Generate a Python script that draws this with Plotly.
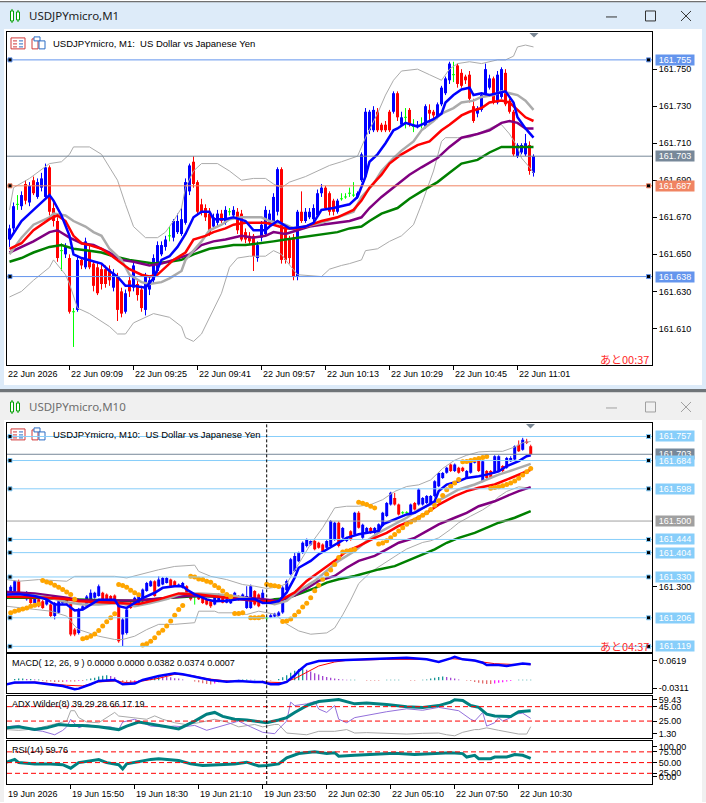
import plotly.graph_objects as go

W, H = 706, 803

# ================= DATA =================
# prices are stored in points (0.001) above 161.000
# ---- M1 chart (bars 08:54 .. 11:05) ----
m1_open = [658,664,677,676,688,678,690,681,686,681,
697,675,668,652,650,648,619,620,647,643,
652,645,643,642,642,642,632,638,630,619,
636,632,634,631,620,631,636,641,650,654,
660,659,662,661,667,684,700,689,677,675,
672,665,667,672,667,673,671,673,672,662,
660,660,648,659,661,667,668,673,696,664,
658,659,638,673,668,670,669,671,683,686,
683,679,673,680,681,683,682,681,690,692,
717,717,727,720,720,727,727,737,720,724,
728,719,719,720,719,728,727,724,731,737,
744,747,752,748,746,747,730,726,728,736,
740,745,732,735,748,733,727,703,705,704,
709,694]
m1_high = [666,678,682,684,690,689,692,691,694,699,
698,678,670,656,656,650,621,649,648,659,
655,646,646,645,644,644,642,640,632,631,
638,646,636,633,640,638,650,657,657,660,
665,669,672,675,691,699,703,690,680,677,
675,672,674,674,676,675,676,675,674,664,
662,661,657,668,676,674,683,697,697,666,
660,661,674,684,675,675,677,685,688,687,
684,680,680,683,683,686,689,684,705,729,
728,730,729,721,722,728,738,738,727,729,
729,723,722,724,731,731,728,732,741,746,
754,754,753,750,747,749,734,730,737,753,
747,746,749,751,750,734,728,710,710,715,
711,704]
m1_low = [654,662,674,674,677,676,682,680,684,680,
671,665,646,641,648,618,600,619,642,642,
642,630,628,631,632,633,630,614,616,618,
627,630,625,619,617,628,634,640,649,652,
657,657,661,660,666,682,686,671,671,668,
660,664,665,667,666,671,670,661,657,656,
655,641,646,657,660,665,666,671,645,645,
645,636,636,667,667,669,668,670,681,674,
671,671,672,679,680,681,681,680,689,691,
715,716,716,716,716,716,726,722,719,718,
719,716,718,718,718,721,723,723,730,736,
742,743,740,740,742,732,721,724,727,735,
739,731,731,734,730,726,703,702,704,703,
693,692]
m1_close = [664,676,677,682,679,687,683,689,691,697,
673,668,648,652,654,619,619,647,644,657,
643,633,629,634,634,636,640,620,618,629,
630,644,628,621,638,636,648,655,655,658,
660,668,668,669,689,698,688,673,673,670,
661,670,672,668,674,673,674,663,658,658,
657,649,655,666,674,672,681,696,647,647,
648,638,673,668,673,673,675,683,686,675,
673,673,679,680,681,683,682,683,704,727,
727,728,717,717,717,717,737,724,724,724,
720,719,720,720,730,726,725,731,740,745,
753,747,742,741,744,734,722,729,736,750,
745,732,747,750,731,727,704,709,709,710,
695,703]
m1_tick_idx = [15, 31, 47, 63, 79, 95, 111, 127]
m1_first_label = "22 Jun 2026"
m1_tick_labels = ["22 Jun 09:09", "22 Jun 09:25", "22 Jun 09:41", "22 Jun 09:57",
                  "22 Jun 10:13", "22 Jun 10:29", "22 Jun 10:45", "22 Jun 11:01"]
m1_price_ticks = [161.610, 161.630, 161.650, 161.670, 161.690, 161.710, 161.730, 161.750]

m1_blue_idx = [0,3,6,10,11,13,15,16,18,21,23,25,27,29,31,34,36,38,40,42,44,46,48,50,51,54,56,59,61,64,65,67,70,74,76,78,81,85,87,89,90,92,94,96,97,99,102,103,106,108,109,111,113,115,116,118,120,124,126,127,129,131]
m1_blue_val = [658,668,674,682,679,671,660,650,648,646,645,641,638,633,633,632,637,647,649,654,661,670,673,673,669,669,670,668,663,663,665,668,664,665,667,674,675,677,681,692,700,704,710,717,718,721,719,720,723,726,732,736,739,740,736,737,736,738,732,724,718,713]
m1_red_idx = [0,3,6,10,12,14,16,18,20,23,25,28,30,33,35,37,39,41,44,46,49,51,54,56,59,61,64,66,69,72,74,78,82,86,88,90,93,95,98,102,105,108,110,113,115,118,120,123,125,127,129,131]
m1_red_val = [653,656,663,669,671,668,660,656,655,653,650,645,642,639,638,639,643,647,651,658,660,662,664,666,667,667,667,666,664,664,665,668,670,674,679,686,693,699,704,709,711,717,720,725,727,729,732,733,732,728,724,722]
m1_purple_idx = [0,3,6,10,12,15,18,21,25,28,31,35,38,41,45,48,51,54,58,61,64,66,69,72,75,78,82,85,88,90,93,97,100,103,107,110,113,117,120,123,125,127,129,131]
m1_purple_val = [651,654,657,662,663,659,656,655,651,647,646,644,645,647,650,655,657,658,660,659,660,662,661,663,665,666,667,668,670,675,681,688,693,697,702,708,713,715,717,721,722,721,718,718]
m1_green_idx = [0,3,6,10,13,16,20,23,26,30,33,36,40,43,46,50,53,56,59,63,66,69,72,75,78,82,85,88,90,93,97,100,103,107,110,113,117,120,123,127,131]
m1_green_val = [646,648,651,654,655,653,652,651,649,647,646,645,646,647,650,653,654,655,655,656,657,658,659,660,661,662,664,665,668,672,675,680,684,689,694,699,701,705,708,708,708]
m1_bbmid_idx = [0,3,6,10,11,14,16,19,21,23,25,28,30,33,35,38,40,43,44,46,48,50,53,55,58,60,63,65,67,69,71,74,78,82,86,88,91,93,96,98,101,103,106,108,111,113,116,118,121,123,125,127,129,131]
m1_bbmid_val = [650,659,666,670,672,671,668,665,662,660,653,647,639,635,634,635,637,641,647,652,657,663,666,669,670,670,670,668,667,666,664,665,667,670,673,681,688,695,702,706,711,717,722,726,729,732,733,735,736,738,737,736,733,728]
m1_bbup_idx = [0,1,5,10,13,15,16,20,23,25,27,29,31,34,37,39,41,43,44,46,48,52,55,58,61,64,66,68,70,74,77,80,83,87,89,92,94,96,98,102,105,108,110,112,115,118,122,124,126,127,129,131]
m1_bbup_val = [674,686,691,699,700,704,708,708,704,697,690,677,665,659,659,662,668,675,686,695,699,699,695,690,691,691,688,686,689,692,695,698,700,703,713,726,736,744,749,750,747,744,750,753,754,753,755,755,757,762,763,762]
m1_bblo_idx = [0,3,6,10,11,14,15,17,20,23,25,27,29,31,34,36,40,43,44,46,48,50,53,55,57,60,64,66,68,69,72,78,80,83,85,88,89,92,95,98,101,103,106,108,109,112,115,118,122,123,125,127,128,130,131]
m1_bblo_val = [627,630,636,643,647,639,634,621,618,614,611,607,607,613,616,618,616,611,605,603,607,616,629,643,648,649,649,652,650,647,639,638,642,644,645,647,652,653,657,660,666,677,695,711,713,713,713,716,720,720,715,708,702,697,694]

m1_levels = [755, 703, 687, 638]
m1_level_text = ["161.755", "161.703", "161.687", "161.638"]

# ---- M10 chart (bars 19 Jun 13:10 .. 22 Jun 11:00) ----
m10_open = [271,282,285,317,280,262,272,251,262,256,
246,246,211,221,251,262,251,170,160,231,
241,262,267,272,282,277,272,274,256,155,
160,251,246,251,256,287,302,317,302,307,
312,322,317,302,297,302,282,270,272,267,
262,256,246,256,270,252,250,262,272,262,
236,236,287,277,262,205,207,210,212,222,
290,338,348,378,404,424,429,439,434,429,
419,424,444,495,449,439,469,459,525,449,
464,479,464,469,485,515,550,570,550,525,
525,520,555,550,550,555,555,576,606,631,
647,672,652,662,662,631,647,677,684,621,
652,652,647,652,667,662,682,687,732,717,
742,727]
m10_high = [290,305,320,322,283,287,275,270,265,260,
265,250,254,262,270,265,254,175,236,245,
275,292,285,307,285,280,275,277,260,205,
235,255,270,275,295,315,320,320,332,330,
330,325,320,310,315,305,285,277,275,270,
265,260,275,280,274,265,266,285,275,280,
302,307,290,280,292,210,217,221,226,302,
322,388,404,407,438,447,441,444,437,432,
442,503,498,499,482,452,472,528,530,492,
482,482,482,493,528,558,589,586,553,530,
530,553,558,600,573,579,579,624,649,649,
665,675,675,665,665,655,682,684,686,685,
655,655,700,700,670,695,697,730,745,753,
750,732]
m10_low = [268,280,282,270,268,258,248,248,238,233,
243,208,201,218,248,246,150,150,155,228,
238,258,264,270,258,260,255,260,130,120,
155,233,244,248,253,285,300,270,300,305,
310,300,300,300,295,280,258,246,260,248,
244,236,244,254,250,250,248,260,258,260,
233,233,243,238,258,198,205,207,210,218,
285,335,345,375,400,420,425,411,416,406,
416,420,440,420,446,436,440,455,477,446,
461,461,461,466,482,512,547,547,517,520,
521,517,532,547,547,552,552,572,603,628,
644,649,649,644,649,628,644,675,649,618,
628,628,644,649,649,659,680,684,710,714,
734,700]
m10_close = [287,300,317,272,272,282,251,267,241,236,
262,211,251,256,267,251,155,155,231,241,
271,282,282,302,262,262,257,262,135,201,
231,236,267,272,292,312,317,272,322,327,
327,302,302,307,312,282,262,270,262,251,
246,241,272,277,252,262,262,282,262,277,
272,302,246,241,282,205,214,218,222,298,
318,384,394,404,434,444,439,414,419,409,
439,500,495,424,479,449,444,525,480,489,
479,464,479,490,525,555,586,550,520,525,
525,550,535,596,570,576,576,621,646,646,
662,652,672,647,652,652,680,681,652,682,
631,631,697,697,652,692,692,727,712,747,
737,703]
m10_tick_idx = [16, 32, 48, 64, 80, 96, 112, 128]
m10_first_label = "19 Jun 2026"
m10_tick_labels = ["19 Jun 15:50", "19 Jun 18:30", "19 Jun 21:10", "19 Jun 23:50",
                   "22 Jun 02:30", "22 Jun 05:10", "22 Jun 07:50", "22 Jun 10:30"]
m10_day_sep = 65

m10_blue_idx = [0,3,7,10,12,15,17,19,21,23,27,28,30,32,34,37,39,42,44,45,47,50,52,55,58,62,64,66,68,70,72,73,76,78,80,83,85,88,91,93,94,96,98,100,102,104,107,108,110,113,115,118,120,123,125,128,130,131]
m10_blue_val = [277,278,272,262,246,246,228,231,246,261,261,241,236,251,266,282,297,302,302,292,277,262,256,258,262,263,251,252,257,283,328,358,379,399,414,434,449,460,465,470,490,500,510,520,525,540,560,591,611,621,631,636,641,651,667,682,697,700]
m10_red_idx = [0,8,15,18,22,28,33,38,43,48,53,58,63,68,72,75,78,82,85,88,92,95,98,102,105,108,112,115,118,122,125,128,131]
m10_red_val = [270,268,263,256,254,250,248,262,280,277,270,262,256,257,283,318,343,379,409,424,449,464,485,505,525,550,576,591,601,611,626,641,656]
m10_purple_idx = [0,7,15,18,23,28,33,40,45,50,57,63,68,72,75,78,82,85,88,92,95,98,102,105,108,112,115,118,122,125,128,131]
m10_purple_val = [284,280,267,260,258,258,259,266,272,272,267,264,257,274,295,318,333,358,379,394,414,434,449,470,490,510,525,545,560,576,591,603]
m10_green_idx = [0,8,15,23,32,40,48,57,65,67,70,73,77,80,83,87,90,93,97,100,103,107,110,113,117,120,123,127,130,131]
m10_green_val = [267,267,262,260,257,266,272,268,257,262,265,278,296,313,323,333,343,353,363,379,394,414,434,449,464,480,495,510,525,530]
m10_bbmid_idx = [0,7,11,15,19,23,28,32,36,40,44,48,53,57,61,65,67,70,73,77,80,83,87,90,93,97,100,103,107,110,113,117,120,123,127,131]
m10_bbmid_val = [277,274,267,253,246,246,251,241,251,263,280,280,277,272,263,251,247,257,288,318,348,379,409,439,465,490,510,535,556,576,596,611,626,641,657,674]
m10_bbup_idx = [0,3,8,15,17,22,27,30,33,38,42,47,48,51,55,59,62,65,68,70,73,76,79,82,85,88,91,94,97,100,103,106,109,112,115,118,121,124,127,129,131]
m10_bbup_val = [322,317,322,317,332,332,332,327,337,352,362,366,347,332,322,307,302,295,300,310,370,430,480,540,545,545,550,565,590,605,610,625,660,685,700,710,712,712,725,738,742]
m10_bblo_idx = [0,7,11,15,17,18,23,27,29,32,35,38,42,47,48,52,53,57,60,63,67,70,73,76,80,82,84,86,88,91,95,98,100,102,104,106,108,111,113,116,119,121,123,125,128,131]
m10_bblo_val = [241,231,226,211,181,170,150,140,140,150,170,186,186,191,226,226,221,221,216,226,217,187,166,156,160,175,215,260,310,345,378,400,415,425,435,440,449,475,495,515,534,550,574,590,604,600]
m10_sar_idx = [1,2,3,4,5,6,7,8, 9,10,11,12,13,14,15,16,17, 19,20,21,22,23,24,25,26,27,
               28,29,30,31,32,33, 34,35,36,37,38,39,40,41,42,43,44,
               46,47,48,49,50,51,52,53,54,55,56, 57,58,59, 61,62,63,64, 65,66,67,68,
               69,70,71,72,73,74,75,76,77,78,79,80,81,82,83,84,85,86,87,
               88,89,90,91,92,
               93,94,95,96,97,98,99,100,101,102,103,104,105,106,107,108,109,110,111,112,113,
               114,115,116,117,118,119,120,
               121,122,123,124,125,126,127,128,129,130,131]
m10_sar_val = [221,226,229,233,236,241,244,248, 319,315,312,305,299,292,284,277,262, 142,145,150,157,167,181,194,206,218,
               307,304,299,290,282,276, 123,127,135,145,160,168,181,196,214,231,243,
               332,330,324,322,317,314,304,297,287,277,270, 219,219,221, 206,206,206,209, 308,305,303,301,
               195,196,202,214,224,239,250,267,288,305,323,338,351,368,389,406,409,411,414,
               557,554,550,545,540,
               430,433,440,449,459,470,480,490,497,503,510,518,525,535,548,562,578,595,606,616,626,
               680,681,684,687,690,693,696,
               600,602,604,607,611,616,622,630,640,650,660]

m10_levels_blue = [757, 684, 598, 444, 404, 330, 206, 119]
m10_level_now = 703
m10_level_grey = 500

# ---- MACD(12,26,9) in units of 0.0001 ----
macd_idx = [0,2,7,11,14,17,18,21,23,27,29,32,34,38,42,44,48,51,55,58,62,64,66,68,70,72,73,75,78,82,85,90,95,100,105,108,111,112,114,117,119,120,123,125,127,129,131]
macd_val = [-96,-56,-56,-96,-136,-216,-200,-96,-17,7,-96,-80,7,103,166,142,63,7,-33,-17,-41,-41,-96,-96,-41,118,222,381,460,484,484,500,520,540,500,437,524,560,500,470,420,365,365,340,370,400,382]
signal_idx = [0,7,15,19,23,27,30,33,38,42,46,50,55,60,65,69,72,75,78,82,85,95,105,108,111,114,119,122,126,131]
signal_val = [-80,-40,-120,-136,-40,-17,-56,-33,47,142,118,39,-17,-33,-41,-56,39,182,341,437,476,500,500,440,516,500,437,397,381,374]
# histogram per bar, units of 0.001
macd_hist = [0,0,
             3,4,4,3,3,2,2,
             -2,-3,-3,-4,-4,-4,-3,-3,-3,-2,-2,
             2,4,6,9,11,12,10,7,
             -3,-5,-7,-8,-6,-3,
             3,5,7,9,10,9,8,7,5,4,2,
             0,0,
             -3,-5,-7,-9,-10,-8,-5,
             -2,-2,-1,-1,
             1,2,2,1,1,
             0,-1,-1,-1,0,
             3,7,12,18,23,27,28,25,21,17,14,10,8,6,4,3,2,
             1,1,1,0,0,-1,
             -1,-1,-1,0,1,1,1,1,0,0,-1,-1,0,1,
             2,4,6,8,9,8,6,4,2,
             0,-1,
             -2,-4,-6,-8,-9,-9,-8,-6,-5,-3,-2,
             0,
             1,1,1,1]
macd_ticks = [0.0476, -0.0192]
macd_tick_text = ["0.0619", "-0.0311"]

# ---- ADX Wilder(8) ----
adx_idx = [0,3,7,10,13,16,19,23,28,30,33,37,40,43,47,50,52,54,57,60,63,65,68,70,72,75,78,81,83,87,90,95,100,104,108,111,112,114,116,118,120,122,125,126,128,131]
adx_val = [15.6,17,13.2,15.6,20.3,19,19,17,13.2,18,23.7,20.3,17,14.1,25,34.6,37,31.5,27.5,26.5,23.7,22.8,26.5,29.8,37,46.5,52.2,53.6,55,48.9,50,48,45,44,46.5,51.3,54.6,53.6,46.5,44.1,34.6,32.2,31.3,31.3,37.9,39.3]
pdi_idx = [0,3,6,9,12,14,15,16,18,20,23,26,28,29,32,33,36,39,42,44,47,50,52,55,58,61,64,67,68,70,71,72,75,77,78,80,82,83,85,87,90,95,100,104,108,111,113,116,117,119,120,122,123,124,126,127,129,131]
pdi_val = [17,19,13,10.8,6,12,17,27.5,15.6,20,17,17,13.2,23.7,27.5,25,18,17,18,17,19,12.2,15.6,20.3,25,17,9.4,7.5,14,25,51.3,46.5,48.9,52.2,41.7,37,46.5,27.5,22.7,29.8,33,38,42,40,44,41.7,39.4,27.5,25,37,18,22.7,29.8,25,29.8,34.6,36,28.7]
mdi_idx = [0,3,7,10,13,15,16,17,18,20,23,27,28,32,35,37,39,42,45,48,52,55,58,62,64,67,68,70,72,75,78,82,85,87,90,95,100,104,108,110,112,114,117,118,120,123,126,128,130,131]
mdi_val = [13.2,12.2,14,18,22.7,25,39.4,39.4,29.8,23.7,22.7,37,32,29.8,27.5,32.2,27.5,22.7,20,22.7,27.5,23.7,17,20.3,17,20.3,20.3,8.4,7.5,6,10.8,10.8,13.2,8.4,9,8,7,8,8.4,6,4.6,9.4,13.2,13.2,15.6,12.2,9.4,7,7,17.2]
adx_levels = [45, 25]
adx_ticks = [54.3, 44.6, 25.0, 7.25]
adx_tick_text = ["59.43", "45.00", "25.00", "1.30"]

# ---- RSI(14) ----
rsi_idx = [0,2,3,7,11,14,16,18,23,25,28,29,30,33,36,38,43,46,49,53,57,60,63,65,68,70,73,77,80,82,83,87,92,97,102,106,108,111,114,115,117,118,121,122,125,127,129,131]
rsi_val = [51,57.5,50,47,47,45,37,50,57,50,45,35,47,53,57.5,59,55,47,43,45,47,51,42,43,47,61,71,75,71,73,65,67,70,72,69,71,71,73,71,63,67,59,59,63,63,69,67,59.8]
rsi_levels = [75, 50, 25]
rsi_ticks = [87.7, 75, 50, 25, 17.9]
rsi_tick_text = ["100.00", "75.00", "50.00", "25.00", "0.00"]

# ================= HELPERS =================
def X(px):
    return px / W

def Y(py):
    return 1 - py / H

def price(p):
    return 161.0 + p / 1000.0

BULL, BEAR, DOJI = "#0000FF", "#FF0000", "#00FF00"
FONT = "Liberation Sans, Arial, sans-serif"

fig = go.Figure()

def add_candles(o, h, l, c, xa, ya, minh):
    bases, hts, cols = [], [], []
    wx = {BULL: [], BEAR: [], DOJI: []}
    wy = {BULL: [], BEAR: [], DOJI: []}
    for i in range(len(o)):
        col = BULL if c[i] > o[i] else (BEAR if c[i] < o[i] else DOJI)
        lo, hi = min(o[i], c[i]), max(o[i], c[i])
        hgt = max((hi - lo) / 1000.0, minh)
        mid = (price(lo) + price(hi)) / 2
        bases.append(mid - hgt / 2)
        hts.append(hgt)
        cols.append(col)
        wx[col] += [i, i, None]
        wy[col] += [price(l[i]), price(h[i]), None]
    for col in (BULL, BEAR, DOJI):
        fig.add_trace(go.Scatter(x=wx[col], y=wy[col], mode="lines",
                                 line=dict(color=col, width=1), xaxis=xa, yaxis=ya,
                                 hoverinfo="skip"))
    fig.add_trace(go.Bar(x=list(range(len(o))), y=hts, base=bases, width=0.75,
                         marker=dict(color=cols, line=dict(width=0)),
                         xaxis=xa, yaxis=ya, hoverinfo="skip"))

def add_line(idx, vals, color, width, xa, ya, conv=price):
    fig.add_trace(go.Scatter(x=idx, y=[conv(v) for v in vals], mode="lines",
                             line=dict(color=color, width=width), xaxis=xa, yaxis=ya,
                             hoverinfo="skip"))

GREY = "#ABABAB"

# ================= M1 =================
add_candles(m1_open, m1_high, m1_low, m1_close, "x", "y", 1 / 1857)
add_line(m1_bbup_idx, m1_bbup_val, GREY, 1, "x", "y")
add_line(m1_bblo_idx, m1_bblo_val, GREY, 1, "x", "y")
add_line(m1_green_idx, m1_green_val, "#008000", 2.5, "x", "y")
add_line(m1_purple_idx, m1_purple_val, "#800080", 2.5, "x", "y")
add_line(m1_bbmid_idx, m1_bbmid_val, GREY, 2.5, "x", "y")
add_line(m1_red_idx, m1_red_val, "#FF0000", 2.5, "x", "y")
add_line(m1_blue_idx, m1_blue_val, "#0000FF", 2.5, "x", "y")

# ================= M10 =================
add_candles(m10_open, m10_high, m10_low, m10_close, "x2", "y2", 1 / 329.8)
add_line(m10_bbup_idx, m10_bbup_val, GREY, 1, "x2", "y2")
add_line(m10_bblo_idx, m10_bblo_val, GREY, 1, "x2", "y2")
add_line(m10_green_idx, m10_green_val, "#008000", 2.5, "x2", "y2")
add_line(m10_purple_idx, m10_purple_val, "#800080", 2.5, "x2", "y2")
add_line(m10_bbmid_idx, m10_bbmid_val, GREY, 2.5, "x2", "y2")
add_line(m10_red_idx, m10_red_val, "#FF0000", 2.5, "x2", "y2")
add_line(m10_blue_idx, m10_blue_val, "#0000FF", 2.5, "x2", "y2")
fig.add_trace(go.Scatter(x=m10_sar_idx, y=[price(v) for v in m10_sar_val], mode="markers",
                         marker=dict(color="#FFA500", size=5, line=dict(width=0)),
                         xaxis="x2", yaxis="y2", hoverinfo="skip"))

# MACD
hist_cols = []
prev = 0
for v in macd_hist:
    if v >= 0:
        hist_cols.append("#008B8B" if v >= prev else "#9932CC")
    else:
        hist_cols.append("#E06060" if v <= prev else "#FF00FF")
    prev = v
fig.add_trace(go.Bar(x=list(range(len(macd_hist))), y=[v / 1000.0 for v in macd_hist],
                     width=0.3, marker=dict(color=hist_cols, line=dict(width=0)),
                     xaxis="x3", yaxis="y3", hoverinfo="skip"))
add_line(signal_idx, signal_val, "#FF0000", 1, "x3", "y3", conv=lambda v: v / 10000.0)
add_line(macd_idx, macd_val, "#0000FF", 2.5, "x3", "y3", conv=lambda v: v / 10000.0)

# ADX
add_line(mdi_idx, mdi_val, "#A9A9A9", 1, "x4", "y4", conv=float)
add_line(pdi_idx, pdi_val, "#9370DB", 1, "x4", "y4", conv=float)
add_line(adx_idx, adx_val, "#008080", 3, "x4", "y4", conv=float)

# RSI
add_line(rsi_idx, rsi_val, "#008080", 3, "x5", "y5", conv=float)

# ================= AXES =================
base_ax = dict(showgrid=False, zeroline=False, showline=True, mirror=True,
               linecolor="black", linewidth=1, fixedrange=True)
tickfont = dict(family=FONT, size=9, color="black")

m10_xrange = [0.075, 161.325]
fig.update_layout(
    xaxis=dict(domain=[X(7), X(652)], range=[-0.625, 160.625], anchor="y",
               ticks="outside", ticklen=4, tickcolor="black", tickvals=m1_tick_idx,
               showticklabels=False, **base_ax),
    yaxis=dict(domain=[Y(365), Y(31)], range=[161.5902, 161.7701], anchor="x", side="right",
               ticks="outside", ticklen=4, tickcolor="black", tickvals=m1_price_ticks,
               ticktext=["%.3f" % v for v in m1_price_ticks], tickfont=tickfont, **base_ax),
    xaxis2=dict(domain=[X(7), X(652)], range=m10_xrange, anchor="y2", ticks="",
                showticklabels=False, **base_ax),
    yaxis2=dict(domain=[Y(653), Y(423)], range=[161.1008, 161.7982], anchor="x2", side="right",
                ticks="outside", ticklen=4, tickcolor="black", tickvals=[161.3],
                ticktext=["161.300"], tickfont=tickfont, **base_ax),
    xaxis3=dict(domain=[X(7), X(652)], range=m10_xrange, anchor="y3", matches="x2", ticks="",
                showticklabels=False, **base_ax),
    yaxis3=dict(domain=[Y(694), Y(655)], range=[-0.0311, 0.0619], anchor="x3", side="right",
                ticks="outside", ticklen=4, tickcolor="black", tickvals=macd_ticks,
                ticktext=macd_tick_text, tickfont=tickfont, **base_ax),
    xaxis4=dict(domain=[X(7), X(652)], range=m10_xrange, anchor="y4", matches="x2", ticks="",
                showticklabels=False, **base_ax),
    yaxis4=dict(domain=[Y(739), Y(697)], range=[1.30, 59.43], anchor="x4", side="right",
                ticks="outside", ticklen=4, tickcolor="black", tickvals=adx_ticks,
                ticktext=adx_tick_text, tickfont=tickfont, **base_ax),
    xaxis5=dict(domain=[X(7), X(652)], range=m10_xrange, anchor="y5", matches="x2",
                ticks="outside", ticklen=4, tickcolor="black", tickvals=m10_tick_idx,
                showticklabels=False, **base_ax),
    yaxis5=dict(domain=[Y(785), Y(742)], range=[0, 100], anchor="x5", side="right",
                ticks="outside", ticklen=4, tickcolor="black", tickvals=rsi_ticks,
                ticktext=rsi_tick_text, tickfont=tickfont, **base_ax),
)

shapes = []
annots = []

def rect(x0, y0, x1, y1, fill=None, line=None, lw=1, layer="below"):
    shapes.append(dict(type="rect", xref="paper", yref="paper", x0=X(x0), x1=X(x1),
                       y0=Y(y0), y1=Y(y1), fillcolor=fill if fill else "rgba(0,0,0,0)",
                       line=dict(color=line if line else "rgba(0,0,0,0)", width=lw if line else 0),
                       layer=layer))

def seg(x0, y0, x1, y1, color, lw=1, layer="above"):
    shapes.append(dict(type="line", xref="paper", yref="paper", x0=X(x0), x1=X(x1),
                       y0=Y(y0), y1=Y(y1), line=dict(color=color, width=lw), layer=layer))

def text(px, py, s, size=9, color="black", anchor="left", family=FONT):
    annots.append(dict(x=X(px), y=Y(py), xref="paper", yref="paper", text=s, showarrow=False,
                       xanchor=anchor, yanchor="middle",
                       font=dict(family=family, size=size, color=color)))

# ---- window chrome ----
ACT = "#DDEBF9"
INACT = "#F0F0F0"
rect(0, 0, 706, 28, ACT)
rect(0, 28, 4, 389, ACT)
rect(702, 28, 706, 389, ACT)
rect(0, 385, 706, 389, ACT)
rect(0, 0, 706, 1.2, "#707070")
rect(0, 389, 706, 392.5, "#6F7478")
rect(0, 392.5, 706, 420, INACT)
rect(0, 420, 4, 803, INACT)
rect(702, 420, 706, 803, INACT)

for (ty, col, tcol) in ((15, "#333333", "#1E1E1E"), (407, "#A0A0A0", "#6E6E6E")):
    # green candle icon
    seg(12, ty - 7, 12, ty + 7, "#00A000", 1)
    rect(10.5, ty - 5, 13.5, ty + 5, "white", "#00A000", 1, "above")
    seg(18, ty - 6, 18, ty + 6, "#00A000", 1)
    rect(16.5, ty - 4, 19.5, ty + 4, "white", "#00A000", 1, "above")
    # window controls
    seg(606, ty + 1, 617, ty + 1, col, 1)
    rect(645.5, ty - 5, 655.5, ty + 5, None, col, 1, "above")
    seg(681, ty - 5, 691, ty + 5, col, 1)
    seg(681, ty + 5, 691, ty - 5, col, 1)

text(27, 15, "USDJPYmicro,M1", size=11.5, color="#1E1E1E", family="Noto Sans, sans-serif")
text(27, 407, "USDJPYmicro,M10", size=11.5, color="#6E6E6E", family="Noto Sans, sans-serif")

for hy in (43, 435):
    rect(11, hy - 6, 25, hy + 5, "white", "#D03A3A", 1, "above")
    for dy in (-3, 0, 3):
        seg(13, hy + dy, 17, hy + dy, "#D03A3A", 1)
        seg(19, hy + dy, 23, hy + dy, "#2B6CC4", 1)
    rect(32, hy - 5, 38, hy + 5, "white", "#D03A3A", 1, "above")
    rect(34, hy - 7, 40, hy - 3, "white", "#2B6CC4", 1, "above")
    rect(39, hy - 3, 45, hy + 5, "white", "#2B6CC4", 1, "above")

text(51, 43, "USDJPYmicro, M1:\u00a0 US Dollar vs Japanese Yen", size=9.5)
text(51, 435, "USDJPYmicro, M10:\u00a0 US Dollar vs Japanese Yen", size=9.5)

# ---- shift markers ----
for (cx, cy) in ((534, 32), (530.5, 424)):
    shapes.append(dict(type="path", xref="paper", yref="paper",
                       path="M %f,%f L %f,%f L %f,%f Z" % (X(cx - 4.5), Y(cy), X(cx + 4.5), Y(cy), X(cx), Y(cy + 4.5)),
                       fillcolor="#7A8794", line=dict(width=0), layer="above"))

# ---- price levels ----
def level(yref, p, color, label=None, box=None, squares=True):
    v = price(p)
    shapes.append(dict(type="line", xref="x domain" if yref == "y" else "x2 domain", yref=yref,
                       x0=0, x1=1, y0=v, y1=v, line=dict(color=color, width=1), layer="above"))
    if squares:
        for sx in (10, 648.5):
            shapes.append(dict(type="rect", xref="paper", yref=yref, xsizemode="pixel", ysizemode="pixel",
                               xanchor=X(sx), yanchor=v, x0=-2, x1=2, y0=-2, y1=2,
                               fillcolor="black", line=dict(color=color, width=1), layer="above"))
    if label:
        annots.append(dict(x=X(655), y=v, xref="paper", yref=yref, text=label, showarrow=False,
                           xanchor="left", yanchor="middle", bgcolor=box, width=38, height=10,
                           borderpad=0, align="center",
                           font=dict(family=FONT, size=9, color="white")))

m1_cols = ["#6495ED", "#778899", "#F08462", "#6495ED"]
for p, t, c in zip(m1_levels, m1_level_text, m1_cols):
    level("y", p, c, t, c, squares=(t != "161.703"))

level("y2", m10_level_now, "#778899", "161.703", "#778899", squares=False)
level("y2", m10_level_grey, "#A0A0A0", "161.500", "#A0A0A0", squares=False)
for p in m10_levels_blue:
    level("y2", p, "#87CEFA", "%.3f" % price(p), "#87CEFA")

# ---- indicator levels ----
for lv in adx_levels:
    shapes.append(dict(type="line", xref="x4 domain", yref="y4", x0=0, x1=1, y0=lv, y1=lv,
                       line=dict(color="#FF0000", width=1, dash="5px,3px"), layer="above"))
for lv in rsi_levels:
    shapes.append(dict(type="line", xref="x5 domain", yref="y5", x0=0, x1=1, y0=lv, y1=lv,
                       line=dict(color="#FF0000", width=1, dash="5px,3px"), layer="above"))

# ---- day separator ----
for ax in ("2", "3", "4", "5"):
    shapes.append(dict(type="line", xref="x" + ax, yref="y%s domain" % ax, x0=m10_day_sep, x1=m10_day_sep,
                       y0=0, y1=1, line=dict(color="black", width=1, dash="3px,2px"), layer="above"))

# ---- time labels ----
text(6, 374, m1_first_label)
text(6, 795, m10_first_label)
for j, t in zip(m1_tick_idx, m1_tick_labels):
    annots.append(dict(x=j, y=Y(374), xref="x", yref="paper", text=t, showarrow=False,
                       xanchor="left", yanchor="middle", xshift=-1,
                       font=dict(family=FONT, size=9, color="black")))
for j, t in zip(m10_tick_idx, m10_tick_labels):
    annots.append(dict(x=j, y=Y(795), xref="x5", yref="paper", text=t, showarrow=False,
                       xanchor="left", yanchor="middle", xshift=-1,
                       font=dict(family=FONT, size=9, color="black")))

# ---- indicator titles ----
text(10, 664, "MACD( 12, 26, 9 ) 0.0000 0.0000 0.0382 0.0374 0.0007", size=9)
text(10, 705, "ADX Wilder(8) 39.29 28.66 17.19", size=9)
text(10, 751, "RSI(14) 59.76", size=9)

# ---- countdown ----
text(651, 359, "あと00:37", size=11, color="#FF2A2A", anchor="right", family="Noto Sans CJK JP")
text(651, 647, "あと04:37", size=11, color="#FF2A2A", anchor="right", family="Noto Sans CJK JP")

fig.update_layout(
    width=W, height=H, margin=dict(l=0, r=0, t=0, b=0),
    paper_bgcolor="white", plot_bgcolor="white",
    showlegend=False, barmode="overlay", hovermode=False,
    shapes=shapes, annotations=annots,
)

fig.write_html("out.html", config={"displayModeBar": False, "staticPlot": True},
               post_script="document.body.style.margin='0';document.body.style.overflow='hidden';")
